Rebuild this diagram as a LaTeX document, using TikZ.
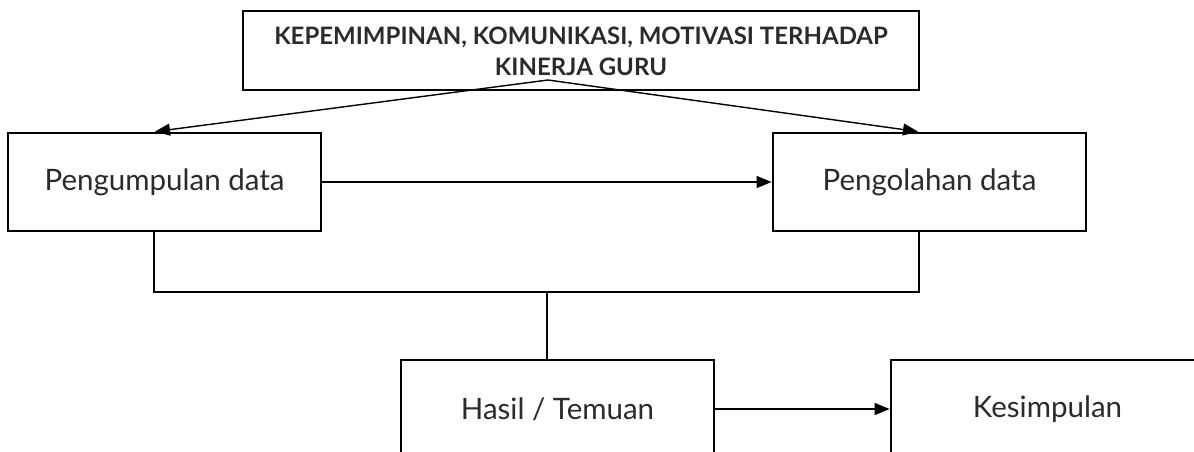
\documentclass[tikz,border=0pt]{standalone}
\usepackage{fontspec}
\setmainfont{Lato}
\usetikzlibrary{arrows.meta}
\definecolor{txt}{HTML}{2B2B2B}
\begin{document}
\begin{tikzpicture}[x=1pt,y=-1pt,
  box/.style={draw=black,line width=2.8pt,rectangle,inner sep=0pt,
    minimum width=313pt,minimum height=98pt,text=txt,
    font=\fontsize{29.5}{34}\selectfont},
  topbox/.style={draw=black,line width=2.8pt,rectangle,inner sep=0pt,
    minimum width=676pt,minimum height=79pt},
  toptext/.style={text=txt,align=center,inner sep=0pt,
    font=\bfseries\fontsize{24}{31}\selectfont},
  conn/.style={draw=black,line width=1.4pt},
  arr/.style={conn,-{Triangle[length=15pt,width=12pt]}}]
\useasboundingbox (0,0) rectangle (1194,452);
\clip (0,0) rectangle (1194,452);
\fill[white] (0,0) rectangle (1194,452);
\node[topbox] (top) at (581,50.5) {};
\node[toptext] (toptxt) at (581,51) {KEPEMIMPINAN, KOMUNIKASI, MOTIVASI TERHADAP\\KINERJA GURU};
\node[box] (pd) at (164.5,182) {Pengumpulan data};
\node[box] (po) at (929.5,182) {Pengolahan data};
\node[box] (hs) at (557.5,409) {Hasil / Temuan};
\node[box] (ks) at (1047.5,409) {Kesimpulan};
\coordinate (apex) at (548,80);
\coordinate (jl) at (154,292);
\coordinate (jr) at (919,292);
\coordinate (jm) at (547,292);
\draw[arr] (apex) -- ([xshift=-9.5pt]pd.north);
\draw[arr] (apex) -- ([xshift=-11.5pt]po.north);
\draw[arr] (pd.east) -- (po.west);
\draw[arr] (hs.east) -- (ks.west);
\draw[conn] (pd.south -| jl) -- (jl) -- (jr) -- (po.south -| jr);
\draw[conn] (jm) -- (hs.north -| jm);
\end{tikzpicture}
\end{document}
